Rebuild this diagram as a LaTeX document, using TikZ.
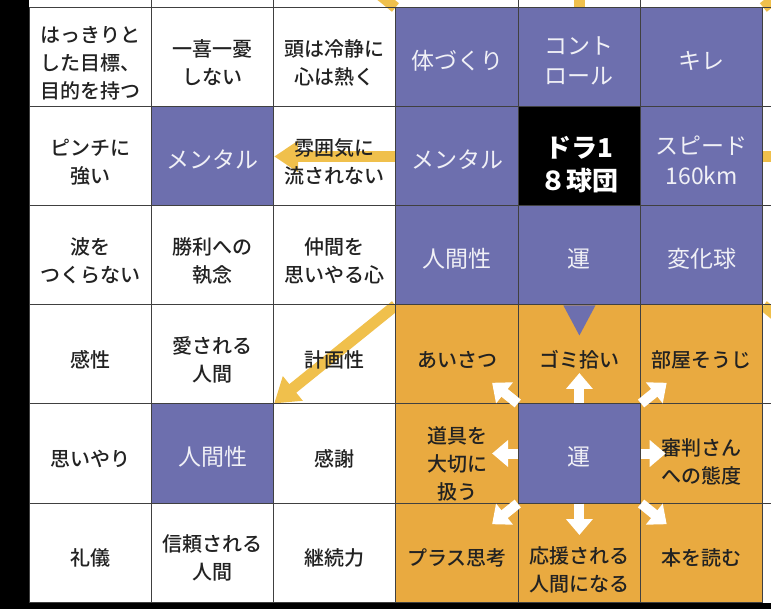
\documentclass[tikz,border=0pt]{standalone}
\usepackage{fontspec}
\setmainfont{Noto Sans CJK JP}
\newfontfamily\medfont{Noto Sans CJK JP Medium}
\usetikzlibrary{arrows.meta}
\pgfdeclarelayer{background}
\pgfsetlayers{background,main}

\begin{document}
\begin{tikzpicture}[x=1pt,y=-1pt]
  % Styles and colors
  \definecolor{themepurple}{RGB}{109,111,174}
  \definecolor{deedorange}{RGB}{233,170,64}
  \definecolor{arrowyellow}{RGB}{240,192,76}
  \definecolor{ink}{RGB}{34,34,34}
  \definecolor{themeink}{RGB}{240,240,246}
  \tikzset{
    box/.style={minimum width=122.3pt,minimum height=99pt,inner sep=0pt,
      draw=black!75,line width=1pt},
    celltext/.style={align=center,text=ink,yshift=-5.5pt,
      font=\medfont\fontsize{20}{28}\selectfont},
    themetext/.style={align=center,text=themeink,yshift=-3.5pt,
      font=\fontsize{23}{30}\selectfont},
    coretext/.style={align=center,text=white,yshift=-8pt,
      font=\bfseries\fontsize{26}{33}\selectfont},
    cell/.style={box,label={[celltext]center:{#1}}},
    theme/.style={box,fill=themepurple,label={[themetext]center:{#1}}},
    core/.style={box,fill=black,label={[coretext]center:{#1}}},
    deed/.style={box,fill=deedorange,label={[celltext]center:{#1}}},
    deedlow/.style 2 args={box,fill=deedorange,
      label={[celltext,yshift=-#2]center:{#1}}},
    grid/.style={draw=black!75,line width=1pt},
    yarrow/.style={draw=arrowyellow,line width=11pt,
      -{Triangle[length=24pt,width=30pt]}},
    warrow/.style={draw=white,line width=10pt,
      -{Triangle[length=16pt,width=26pt]}}
  }

  \useasboundingbox (0,0) rectangle (771,609);
  \clip (0,0) rectangle (771,609);

  % Row 1
  \node[cell={はっきりと\\した目標、\\目的を持つ}] (mokuhyo) at (90.2,57.5) {};
  \node[cell={一喜一憂\\しない}] (ikki) at (212.5,57.5) {};
  \node[cell={頭は冷静に\\心は熱く}] (atama) at (334.8,57.5) {};
  \node[theme={体づくり}] (karada) at (457.1,57.5) {};
  \node[theme={コント\\ロール}] (control) at (579.4,57.5) {};
  \node[theme={キレ}] (kire) at (701.7,57.5) {};
  % Row 2
  \node[cell={ピンチに\\強い}] (pinch) at (90.2,156.5) {};
  \node[theme={メンタル}] (mentalL) at (212.5,156.5) {};
  \node[cell={雰囲気に\\流されない}] (funiki) at (334.8,156.5) {};
  \node[theme={メンタル}] (mentalC) at (457.1,156.5) {};
  \node[core={ドラ1\\８球団}] (dora) at (579.4,156.5) {};
  \node[theme={スピード\\160km}] (speed) at (701.7,156.5) {};
  % Row 3
  \node[cell={波を\\つくらない}] (nami) at (90.2,255.5) {};
  \node[cell={勝利への\\執念}] (shori) at (212.5,255.5) {};
  \node[cell={仲間を\\思いやる心}] (nakama) at (334.8,255.5) {};
  \node[theme={人間性}] (ningenC) at (457.1,255.5) {};
  \node[theme={運}] (unC) at (579.4,255.5) {};
  \node[theme={変化球}] (henka) at (701.7,255.5) {};
  % Row 4
  \node[cell={感性}] (kansei) at (90.2,354.5) {};
  \node[cell={愛される\\人間}] (aisareru) at (212.5,354.5) {};
  \node[cell={計画性}] (keikaku) at (334.8,354.5) {};
  \node[deed={あいさつ}] (aisatsu) at (457.1,354.5) {};
  \node[deed={ゴミ拾い}] (gomi) at (579.4,354.5) {};
  \node[deed={部屋そうじ}] (heya) at (701.7,354.5) {};
  % Row 5
  \node[cell={思いやり}] (omoiyari) at (90.2,453.5) {};
  \node[theme={人間性}] (ningenL) at (212.5,453.5) {};
  \node[cell={感謝}] (kansha) at (334.8,453.5) {};
  \node[deedlow={道具を\\大切に\\扱う}{5pt}] (dougu) at (457.1,453.5) {};
  \node[theme={運}] (unL) at (579.4,453.5) {};
  \node[deedlow={審判さん\\への態度}{3pt}] (shinpan) at (701.7,453.5) {};
  % Row 6
  \node[cell={礼儀}] (reigi) at (90.2,552.5) {};
  \node[cell={信頼される\\人間}] (shinrai) at (212.5,552.5) {};
  \node[cell={継続力}] (keizoku) at (334.8,552.5) {};
  \node[deed={プラス思考}] (plus) at (457.1,552.5) {};
  \node[deedlow={応援される\\人間になる}{12pt}] (ouen) at (579.4,552.5) {};
  \node[deed={本を読む}] (hon) at (701.7,552.5) {};

  % Blocks outside the picture
  \coordinate (outUL) at (273.6,-91);
  \coordinate (outU) at (579.4,-91);
  \coordinate (outUR) at (885.2,-91);
  \coordinate (outR) at (885.2,156.5);
  \coordinate (outDR) at (885.2,404);

  % Yellow arrows, behind the texts
  \begin{pgfonlayer}{background}
    \fill[white] (0,0) rectangle (771,609);
    \draw[yarrow] (mentalC.west) -- (mentalL.east);
    \draw[yarrow] (ningenC.south west) -- (ningenL.north east);
    \draw[yarrow] (karada.north west) -- (outUL);
    \draw[yarrow] (control.north) -- (outU);
    \draw[yarrow] (kire.north east) -- (outUR);
    \draw[yarrow] (speed.east) -- (outR);
    \draw[yarrow] (henka.south east) -- (outDR);
  \end{pgfonlayer}

  % Pointer into the lower block
  \fill[themepurple] ([xshift=-16pt]unC.south) -- ([xshift=16pt]unC.south)
    -- ([yshift=-30pt]unC.south) -- cycle;

  % White arrows round luck
  \draw[warrow,shorten >=18.5pt] (unL.north) -- (gomi.center);
  \draw[warrow,shorten >=17.5pt] (unL.south) -- (ouen.center);
  \draw[warrow,shorten >=35pt] (unL.west) -- (dougu.center);
  \draw[warrow,shorten >=36pt] (unL.east) -- (shinpan.center);
  \draw[warrow,shorten >=45pt] (unL.north west) -- (aisatsu.center);
  \draw[warrow,shorten >=45pt] (unL.north east) -- (heya.center);
  \draw[warrow,shorten >=45pt] (unL.south west) -- (plus.center);
  \draw[warrow,shorten >=45pt] (unL.south east) -- (hon.center);

  % Cut-off neighbours and frame
  \foreach \x in {151.3,273.6,518.2,640.5}
    \draw[grid] (\x,0) -- (\x,8);
  \foreach \y in {8,107,206,305,404,503}
    \draw[grid] (762.8,\y) -- (771,\y);
  \fill (0,0) rectangle (29.4,609);
  \fill (0,602.5) rectangle (771,609);
\end{tikzpicture}
\end{document}
